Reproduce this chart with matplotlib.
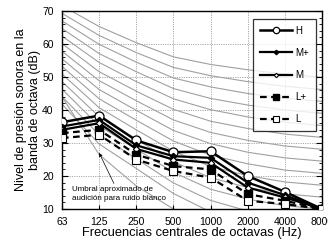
import matplotlib
matplotlib.use("Agg")
import matplotlib.pyplot as plt
from matplotlib.ticker import MultipleLocator

plt.rcParams['font.family'] = ['Liberation Sans', 'DejaVu Sans']

freq_labels = ["63", "125", "250", "500", "1000", "2000", "4000", "8000"]

H  = [36.3, 38.3, 30.8, 27.2, 27.5, 20.0, 15.2, 10.0]
Mp = [35.0, 37.0, 29.3, 26.0, 25.5, 18.0, 14.2, 10.0]
M  = [34.0, 36.0, 28.2, 25.0, 24.0, 16.5, 13.5, 10.0]
Lp = [33.0, 34.0, 26.5, 23.0, 22.0, 14.5, 12.5, 10.0]
L  = [31.5, 32.5, 25.0, 21.5, 19.5, 12.5, 11.5, 10.0]

# background criterion curves (values at octave centres)
bg1  = [71.6, 65.3, 60.4, 56.1, 53.8, 52.2, 50.9, 49.9]
bg2  = [69.3, 62.6, 57.4, 52.9, 50.4, 48.6, 47.2, 46.2]
bg3  = [67.0, 59.9, 54.5, 49.7, 47.0, 45.0, 43.6, 42.6]
bg4  = [64.7, 57.1, 51.6, 46.5, 43.5, 41.5, 40.0, 39.0]
bg5  = [62.4, 54.4, 48.6, 43.4, 40.1, 37.9, 36.3, 35.3]
bg6  = [60.1, 51.6, 45.7, 40.2, 36.6, 34.4, 32.7, 31.7]
bg7  = [57.8, 48.9, 42.8, 37.0, 33.2, 30.8, 29.1, 28.1]
bg8  = [55.5, 46.2, 39.9, 33.8, 29.8, 27.2, 25.5, 24.5]
bg9  = [53.2, 43.4, 36.9, 30.6, 26.3, 23.7, 21.8, 20.8]
bg10 = [50.9, 40.7, 34.0, 27.5, 22.9, 20.1, 18.2, 17.2]
bg11 = [48.6, 38.0, 31.1, 24.3, 19.5, 16.5, 14.6, 13.6]
bg12 = [46.3, 35.2, 28.2, 21.1, 16.0, 13.0, 11.0, 10.0]
bg13 = [44.1, 32.5, 25.2, 17.9, 12.6, 9.4, 7.3, 6.3]
bg14 = [41.8, 29.7, 22.3, 14.7, 9.1, 5.9, 3.7, 2.7]
threshold = [44.0, 26.5, 17.0, 10.0, 5.0, 2.0, 0.0, 0.0]
background = [bg1, bg2, bg3, bg4, bg5, bg6, bg7, bg8, bg9, bg10, bg11, bg12, bg13, bg14]

series_names = ["H", "M+", "M", "L+", "L"]
annotation = "Umbral aproximado de\naudición para ruido blanco"

fig = plt.figure(figsize=(3.28, 2.44), dpi=100)
ax = fig.add_axes([62/328, 35/244, 260/328, 198/244])
x = list(range(len(freq_labels)))

for c in background:
    ax.plot(x, c, color="#a0a0a0", lw=0.8, zorder=1)
ax.plot(x, threshold, color="#a0a0a0", lw=0.8, zorder=1)

ax.plot(x, H, color="black", lw=1.8, marker="o", ms=6.5, mfc="white", mec="black", mew=0.9, label=series_names[0], zorder=5)
ax.plot(x, Mp, color="black", lw=1.6, marker="D", ms=3.2, mfc="black", mec="black", label=series_names[1], zorder=5)
ax.plot(x, M, color="black", lw=1.6, marker="D", ms=3.2, mfc="white", mec="black", mew=0.8, label=series_names[2], zorder=5)
ax.plot(x, Lp, color="black", lw=1.6, ls=(0, (3, 2)), marker="s", ms=6, mfc="black", mec="black", label=series_names[3], zorder=5)
ax.plot(x, L, color="black", lw=1.6, ls=(0, (3, 2)), marker="s", ms=6, mfc="white", mec="black", mew=0.8, label=series_names[4], zorder=5)

ax.set_xlim(0, 7)
ax.set_ylim(10, 70)
ax.set_xticks(x)
ax.set_xticklabels(freq_labels)
ax.yaxis.set_major_locator(MultipleLocator(10))
ax.yaxis.set_minor_locator(MultipleLocator(2))
ax.tick_params(axis="both", which="both", direction="in", labelsize=7.5, pad=6, right=True)
ax.tick_params(axis="y", which="major", length=4)
ax.tick_params(axis="y", which="minor", length=2)
ax.tick_params(axis="x", length=3)
ax.grid(True, which="major", color="#a8a8a8", ls=(0, (1.2, 1.2)), lw=0.7, zorder=0)
for s in ax.spines.values():
    s.set_linewidth(1.0)

ax.set_xlabel("Frecuencias centrales de octavas (Hz)", fontsize=9.3, labelpad=0)
ax.set_ylabel("Nivel de presión sonora en la\nbanda de octava (dB)", fontsize=9, labelpad=1)

leg = ax.legend(loc="upper right", bbox_to_anchor=(0.995, 0.985), fontsize=7, frameon=True,
                fancybox=False, edgecolor="black", handlelength=3.3, handletextpad=0.3,
                labelspacing=1.25, borderpad=0.7, markerscale=0.7)
leg.get_frame().set_linewidth(0.9)

ax.annotate(annotation, xy=(1.0, 27.0), xytext=(0.27, 16.9), fontsize=5.8,
            ha="left", va="top", linespacing=1.35,
            arrowprops=dict(arrowstyle="-|>", color="black", lw=0.5, mutation_scale=5, shrinkA=0, shrinkB=0),
            zorder=6)

fig.savefig("out.png", dpi=100)
